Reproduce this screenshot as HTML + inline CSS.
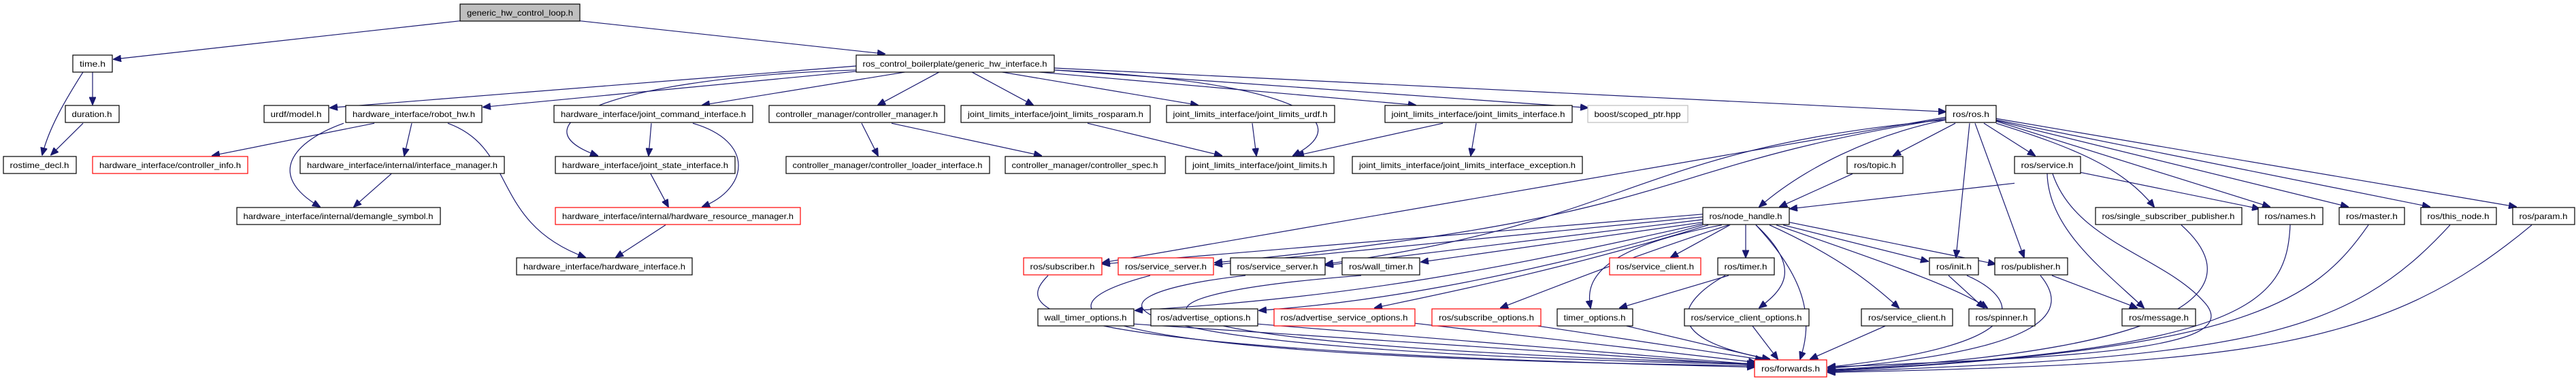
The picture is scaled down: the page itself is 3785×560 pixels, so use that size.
<!DOCTYPE html>
<html><head><meta charset="utf-8"><style>
html,body{margin:0;padding:0;background:#fff;width:3785px;height:560px;overflow:hidden}
svg{display:block}
text{font-family:"Liberation Sans",Arial,sans-serif;font-size:12px;fill:#000;text-anchor:middle}
.e path{fill:none;stroke:#191970;stroke-width:1.2}
.n rect{fill:#fff;stroke:#000;stroke-width:1.2}
.n rect.r{stroke:#ff0000}
.n rect.g{stroke:#bfbfbf}
.n rect.root{fill:#bfbfbf}
</style></head><body>
<svg width="3785" height="560" viewBox="0 0 3785 560" xmlns="http://www.w3.org/2000/svg">
<defs><marker id="a" markerUnits="userSpaceOnUse" markerWidth="12" markerHeight="10" refX="11" refY="5" orient="auto"><path d="M0,0 L12,5 L0,10 Z" fill="#191970" stroke="#191970"/></marker></defs>
<g class="e" transform="scale(1,0.99)">
<path marker-end="url(#a)" d="M676,31 L167,88"/>
<path marker-end="url(#a)" d="M852,31 L1300,80"/>
<path marker-end="url(#a)" d="M136,107 L136,155"/>
<path marker-end="url(#a)" d="M122,107 C95,150 72,190 62,230"/>
<path marker-end="url(#a)" d="M122,183 L75,230"/>
<path marker-end="url(#a)" d="M1258,98 L485,160"/>
<path marker-end="url(#a)" d="M1258,106 L710,159"/>
<path marker-end="url(#a)" d="M1330,107 L1032,156"/>
<path marker-end="url(#a)" d="M1258,104 C900,115 750,185 878,231"/>
<path marker-end="url(#a)" d="M1380,107 L1290,156"/>
<path marker-end="url(#a)" d="M1428,107 L1518,156"/>
<path marker-end="url(#a)" d="M1472,107 L1760,156"/>
<path marker-end="url(#a)" d="M1526,107 L2080,156"/>
<path marker-end="url(#a)" d="M1549,104 C1900,120 2000,180 1900,231"/>
<path marker-end="url(#a)" d="M1549,104 L2333,160"/>
<path marker-end="url(#a)" d="M1549,101 L2859,166"/>
<path marker-end="url(#a)" d="M550,183 L312,231"/>
<path marker-end="url(#a)" d="M605,183 L594,231"/>
<path marker-end="url(#a)" d="M505,183 C430,210 390,260 470,307"/>
<path marker-end="url(#a)" d="M658,183 C760,220 720,330 860,382"/>
<path marker-end="url(#a)" d="M575,258 L520,307"/>
<path marker-end="url(#a)" d="M957,183 L953,231"/>
<path marker-end="url(#a)" d="M1018,183 C1110,210 1100,280 1032,307"/>
<path marker-end="url(#a)" d="M956,258 L982,307"/>
<path marker-end="url(#a)" d="M978,334 L905,382"/>
<path marker-end="url(#a)" d="M1266,183 L1290,231"/>
<path marker-end="url(#a)" d="M1310,183 L1530,231"/>
<path marker-end="url(#a)" d="M1598,183 L1795,231"/>
<path marker-end="url(#a)" d="M1840,183 L1846,231"/>
<path marker-end="url(#a)" d="M2120,183 L1905,231"/>
<path marker-end="url(#a)" d="M2169,183 L2161,231"/>
<path marker-end="url(#a)" d="M2873,183 L2782,231"/>
<path marker-end="url(#a)" d="M2915,183 L2990,231"/>
<path marker-end="url(#a)" d="M2859,178 C2750,200 2650,250 2585,307"/>
<path marker-end="url(#a)" d="M2894,183 L2874,382"/>
<path marker-end="url(#a)" d="M2902,183 L2974,382"/>
<path marker-end="url(#a)" d="M2933,183 C3050,220 3120,250 3165,307"/>
<path marker-end="url(#a)" d="M2933,180 L3335,307"/>
<path marker-end="url(#a)" d="M2933,179 L3450,307"/>
<path marker-end="url(#a)" d="M2933,178 L3570,307"/>
<path marker-end="url(#a)" d="M2933,176 L3697,307"/>
<path marker-end="url(#a)" d="M2859,174 L1620,390"/>
<path marker-end="url(#a)" d="M2859,176 C2400,250 2500,320 1785,390"/>
<path marker-end="url(#a)" d="M2859,178 C2400,220 2400,330 1948,392"/>
<path marker-end="url(#a)" d="M2722,258 L2615,307"/>
<path marker-end="url(#a)" d="M2960,272 L2630,310"/>
<path marker-end="url(#a)" d="M3057,256 L3320,310"/>
<path marker-end="url(#a)" d="M3008,258 C3010,340 3090,400 3150,457"/>
<path marker-end="url(#a)" d="M3016,258 C3050,360 3180,380 3240,450 C3300,520 3050,530 2686,545"/>
<path marker-end="url(#a)" d="M2502,318 L1620,392"/>
<path marker-end="url(#a)" d="M2502,322 L1785,393"/>
<path marker-end="url(#a)" d="M2502,326 L1948,394"/>
<path marker-end="url(#a)" d="M2502,330 L2088,389"/>
<path marker-end="url(#a)" d="M2542,334 L2455,382"/>
<path marker-end="url(#a)" d="M2565,334 L2565,382"/>
<path marker-end="url(#a)" d="M2620,334 L2833,388"/>
<path marker-end="url(#a)" d="M2629,330 L2932,392"/>
<path marker-end="url(#a)" d="M2502,332 C2200,400 2000,440 1668,461"/>
<path marker-end="url(#a)" d="M2502,334 C2200,420 2000,450 1850,461"/>
<path marker-end="url(#a)" d="M2510,334 C2300,400 2100,440 2020,457"/>
<path marker-end="url(#a)" d="M2540,334 C2400,380 2300,420 2205,457"/>
<path marker-end="url(#a)" d="M2530,334 C2340,370 2330,420 2337,457"/>
<path marker-end="url(#a)" d="M2580,334 C2650,400 2620,430 2585,457"/>
<path marker-end="url(#a)" d="M2600,334 C2700,380 2750,420 2790,457"/>
<path marker-end="url(#a)" d="M2580,334 C2640,400 2670,460 2645,533"/>
<path marker-end="url(#a)" d="M2610,334 C2800,400 2880,430 2920,457"/>
<path marker-end="url(#a)" d="M1540,409 C1490,460 1500,520 2578,545"/>
<path marker-end="url(#a)" d="M1690,409 C1500,460 1550,530 2578,543"/>
<path marker-end="url(#a)" d="M1830,409 C1560,440 1560,520 2578,541"/>
<path marker-end="url(#a)" d="M2000,409 C1600,440 1580,510 2578,540"/>
<path marker-end="url(#a)" d="M2540,409 L2380,457"/>
<path marker-end="url(#a)" d="M2535,409 C2480,440 2420,500 2600,533"/>
<path marker-end="url(#a)" d="M2863,409 L2915,457"/>
<path marker-end="url(#a)" d="M2890,409 C2960,440 3010,510 2686,545"/>
<path marker-end="url(#a)" d="M3015,409 L3140,457"/>
<path marker-end="url(#a)" d="M2998,409 C3040,460 3020,520 2686,547"/>
<path marker-end="url(#a)" d="M1666,481 L2578,542"/>
<path marker-end="url(#a)" d="M1848,481 L2578,541"/>
<path marker-end="url(#a)" d="M2079,480 L2580,538"/>
<path marker-end="url(#a)" d="M2260,484 L2590,534"/>
<path marker-end="url(#a)" d="M2390,484 L2600,534"/>
<path marker-end="url(#a)" d="M2575,484 L2612,533"/>
<path marker-end="url(#a)" d="M2770,484 L2660,533"/>
<path marker-end="url(#a)" d="M3205,334 C3300,420 3250,520 2686,549"/>
<path marker-end="url(#a)" d="M3365,334 C3360,450 3300,520 2686,550"/>
<path marker-end="url(#a)" d="M3480,334 C3400,450 3300,520 2686,551"/>
<path marker-end="url(#a)" d="M3600,334 C3450,500 3300,530 2686,552"/>
<path marker-end="url(#a)" d="M3720,334 C3500,520 3300,540 2686,553"/>
</g>
<g class="n">
<rect class="root" x="676" y="6" width="176" height="25"/><text x="764" y="23" textLength="156" lengthAdjust="spacingAndGlyphs">generic_hw_control_loop.h</text>
<rect x="107" y="81" width="58" height="25"/><text x="136" y="98" textLength="38" lengthAdjust="spacingAndGlyphs">time.h</text>
<rect x="1258" y="81" width="291" height="25"/><text x="1403" y="98" textLength="271" lengthAdjust="spacingAndGlyphs">ros_control_boilerplate/generic_hw_interface.h</text>
<rect x="96" y="155" width="79" height="25"/><text x="135" y="172" textLength="59" lengthAdjust="spacingAndGlyphs">duration.h</text>
<rect x="388" y="155" width="95" height="25"/><text x="435" y="172" textLength="75" lengthAdjust="spacingAndGlyphs">urdf/model.h</text>
<rect x="508" y="155" width="200" height="25"/><text x="608" y="172" textLength="180" lengthAdjust="spacingAndGlyphs">hardware_interface/robot_hw.h</text>
<rect x="814" y="155" width="292" height="25"/><text x="960" y="172" textLength="272" lengthAdjust="spacingAndGlyphs">hardware_interface/joint_command_interface.h</text>
<rect x="1130" y="155" width="258" height="25"/><text x="1259" y="172" textLength="238" lengthAdjust="spacingAndGlyphs">controller_manager/controller_manager.h</text>
<rect x="1412" y="155" width="278" height="25"/><text x="1551" y="172" textLength="258" lengthAdjust="spacingAndGlyphs">joint_limits_interface/joint_limits_rosparam.h</text>
<rect x="1714" y="155" width="247" height="25"/><text x="1837" y="172" textLength="227" lengthAdjust="spacingAndGlyphs">joint_limits_interface/joint_limits_urdf.h</text>
<rect x="2035" y="155" width="275" height="25"/><text x="2172" y="172" textLength="255" lengthAdjust="spacingAndGlyphs">joint_limits_interface/joint_limits_interface.h</text>
<rect class="g" x="2333" y="155" width="147" height="25"/><text x="2406" y="172" textLength="127" lengthAdjust="spacingAndGlyphs">boost/scoped_ptr.hpp</text>
<rect x="2859" y="155" width="74" height="25"/><text x="2896" y="172" textLength="54" lengthAdjust="spacingAndGlyphs">ros/ros.h</text>
<rect x="5" y="230" width="107" height="25"/><text x="58" y="247" textLength="87" lengthAdjust="spacingAndGlyphs">rostime_decl.h</text>
<rect class="r" x="136" y="230" width="228" height="25"/><text x="250" y="247" textLength="208" lengthAdjust="spacingAndGlyphs">hardware_interface/controller_info.h</text>
<rect x="441" y="230" width="300" height="25"/><text x="591" y="247" textLength="280" lengthAdjust="spacingAndGlyphs">hardware_interface/internal/interface_manager.h</text>
<rect x="816" y="230" width="264" height="25"/><text x="948" y="247" textLength="244" lengthAdjust="spacingAndGlyphs">hardware_interface/joint_state_interface.h</text>
<rect x="1155" y="230" width="299" height="25"/><text x="1304" y="247" textLength="279" lengthAdjust="spacingAndGlyphs">controller_manager/controller_loader_interface.h</text>
<rect x="1477" y="230" width="235" height="25"/><text x="1594" y="247" textLength="215" lengthAdjust="spacingAndGlyphs">controller_manager/controller_spec.h</text>
<rect x="1742" y="230" width="218" height="25"/><text x="1851" y="247" textLength="198" lengthAdjust="spacingAndGlyphs">joint_limits_interface/joint_limits.h</text>
<rect x="1987" y="230" width="338" height="25"/><text x="2156" y="247" textLength="318" lengthAdjust="spacingAndGlyphs">joint_limits_interface/joint_limits_interface_exception.h</text>
<rect x="2714" y="230" width="82" height="25"/><text x="2755" y="247" textLength="62" lengthAdjust="spacingAndGlyphs">ros/topic.h</text>
<rect x="2960" y="230" width="97" height="25"/><text x="3008" y="247" textLength="77" lengthAdjust="spacingAndGlyphs">ros/service.h</text>
<rect x="348" y="305" width="299" height="25"/><text x="497" y="322" textLength="279" lengthAdjust="spacingAndGlyphs">hardware_interface/internal/demangle_symbol.h</text>
<rect class="r" x="816" y="305" width="360" height="25"/><text x="996" y="322" textLength="340" lengthAdjust="spacingAndGlyphs">hardware_interface/internal/hardware_resource_manager.h</text>
<rect x="2502" y="305" width="127" height="25"/><text x="2565" y="322" textLength="107" lengthAdjust="spacingAndGlyphs">ros/node_handle.h</text>
<rect x="3079" y="305" width="215" height="25"/><text x="3186" y="322" textLength="195" lengthAdjust="spacingAndGlyphs">ros/single_subscriber_publisher.h</text>
<rect x="3318" y="305" width="95" height="25"/><text x="3365" y="322" textLength="75" lengthAdjust="spacingAndGlyphs">ros/names.h</text>
<rect x="3437" y="305" width="96" height="25"/><text x="3485" y="322" textLength="76" lengthAdjust="spacingAndGlyphs">ros/master.h</text>
<rect x="3557" y="305" width="111" height="25"/><text x="3612" y="322" textLength="91" lengthAdjust="spacingAndGlyphs">ros/this_node.h</text>
<rect x="3692" y="305" width="91" height="25"/><text x="3737" y="322" textLength="71" lengthAdjust="spacingAndGlyphs">ros/param.h</text>
<rect x="759" y="379" width="258" height="25"/><text x="888" y="396" textLength="238" lengthAdjust="spacingAndGlyphs">hardware_interface/hardware_interface.h</text>
<rect class="r" x="1504" y="379" width="115" height="25"/><text x="1561" y="396" textLength="95" lengthAdjust="spacingAndGlyphs">ros/subscriber.h</text>
<rect class="r" x="1643" y="379" width="140" height="25"/><text x="1713" y="396" textLength="120" lengthAdjust="spacingAndGlyphs">ros/service_server.h</text>
<rect x="1808" y="379" width="139" height="25"/><text x="1877" y="396" textLength="119" lengthAdjust="spacingAndGlyphs">ros/service_server.h</text>
<rect x="1972" y="379" width="114" height="25"/><text x="2029" y="396" textLength="94" lengthAdjust="spacingAndGlyphs">ros/wall_timer.h</text>
<rect class="r" x="2365" y="379" width="134" height="25"/><text x="2432" y="396" textLength="114" lengthAdjust="spacingAndGlyphs">ros/service_client.h</text>
<rect x="2524" y="379" width="83" height="25"/><text x="2565" y="396" textLength="63" lengthAdjust="spacingAndGlyphs">ros/timer.h</text>
<rect x="2835" y="379" width="72" height="25"/><text x="2871" y="396" textLength="52" lengthAdjust="spacingAndGlyphs">ros/init.h</text>
<rect x="2931" y="379" width="107" height="25"/><text x="2984" y="396" textLength="87" lengthAdjust="spacingAndGlyphs">ros/publisher.h</text>
<rect x="1525" y="454" width="141" height="25"/><text x="1595" y="471" textLength="121" lengthAdjust="spacingAndGlyphs">wall_timer_options.h</text>
<rect x="1691" y="454" width="157" height="25"/><text x="1769" y="471" textLength="137" lengthAdjust="spacingAndGlyphs">ros/advertise_options.h</text>
<rect class="r" x="1872" y="454" width="207" height="25"/><text x="1975" y="471" textLength="187" lengthAdjust="spacingAndGlyphs">ros/advertise_service_options.h</text>
<rect class="r" x="2104" y="454" width="160" height="25"/><text x="2184" y="471" textLength="140" lengthAdjust="spacingAndGlyphs">ros/subscribe_options.h</text>
<rect x="2288" y="454" width="111" height="25"/><text x="2343" y="471" textLength="91" lengthAdjust="spacingAndGlyphs">timer_options.h</text>
<rect x="2475" y="454" width="183" height="25"/><text x="2566" y="471" textLength="163" lengthAdjust="spacingAndGlyphs">ros/service_client_options.h</text>
<rect x="2735" y="454" width="134" height="25"/><text x="2802" y="471" textLength="114" lengthAdjust="spacingAndGlyphs">ros/service_client.h</text>
<rect x="2893" y="454" width="97" height="25"/><text x="2941" y="471" textLength="77" lengthAdjust="spacingAndGlyphs">ros/spinner.h</text>
<rect x="3118" y="454" width="108" height="25"/><text x="3172" y="471" textLength="88" lengthAdjust="spacingAndGlyphs">ros/message.h</text>
<rect class="r" x="2578" y="529" width="106" height="25"/><text x="2631" y="546" textLength="86" lengthAdjust="spacingAndGlyphs">ros/forwards.h</text>
</g>
</svg>
</body></html>
